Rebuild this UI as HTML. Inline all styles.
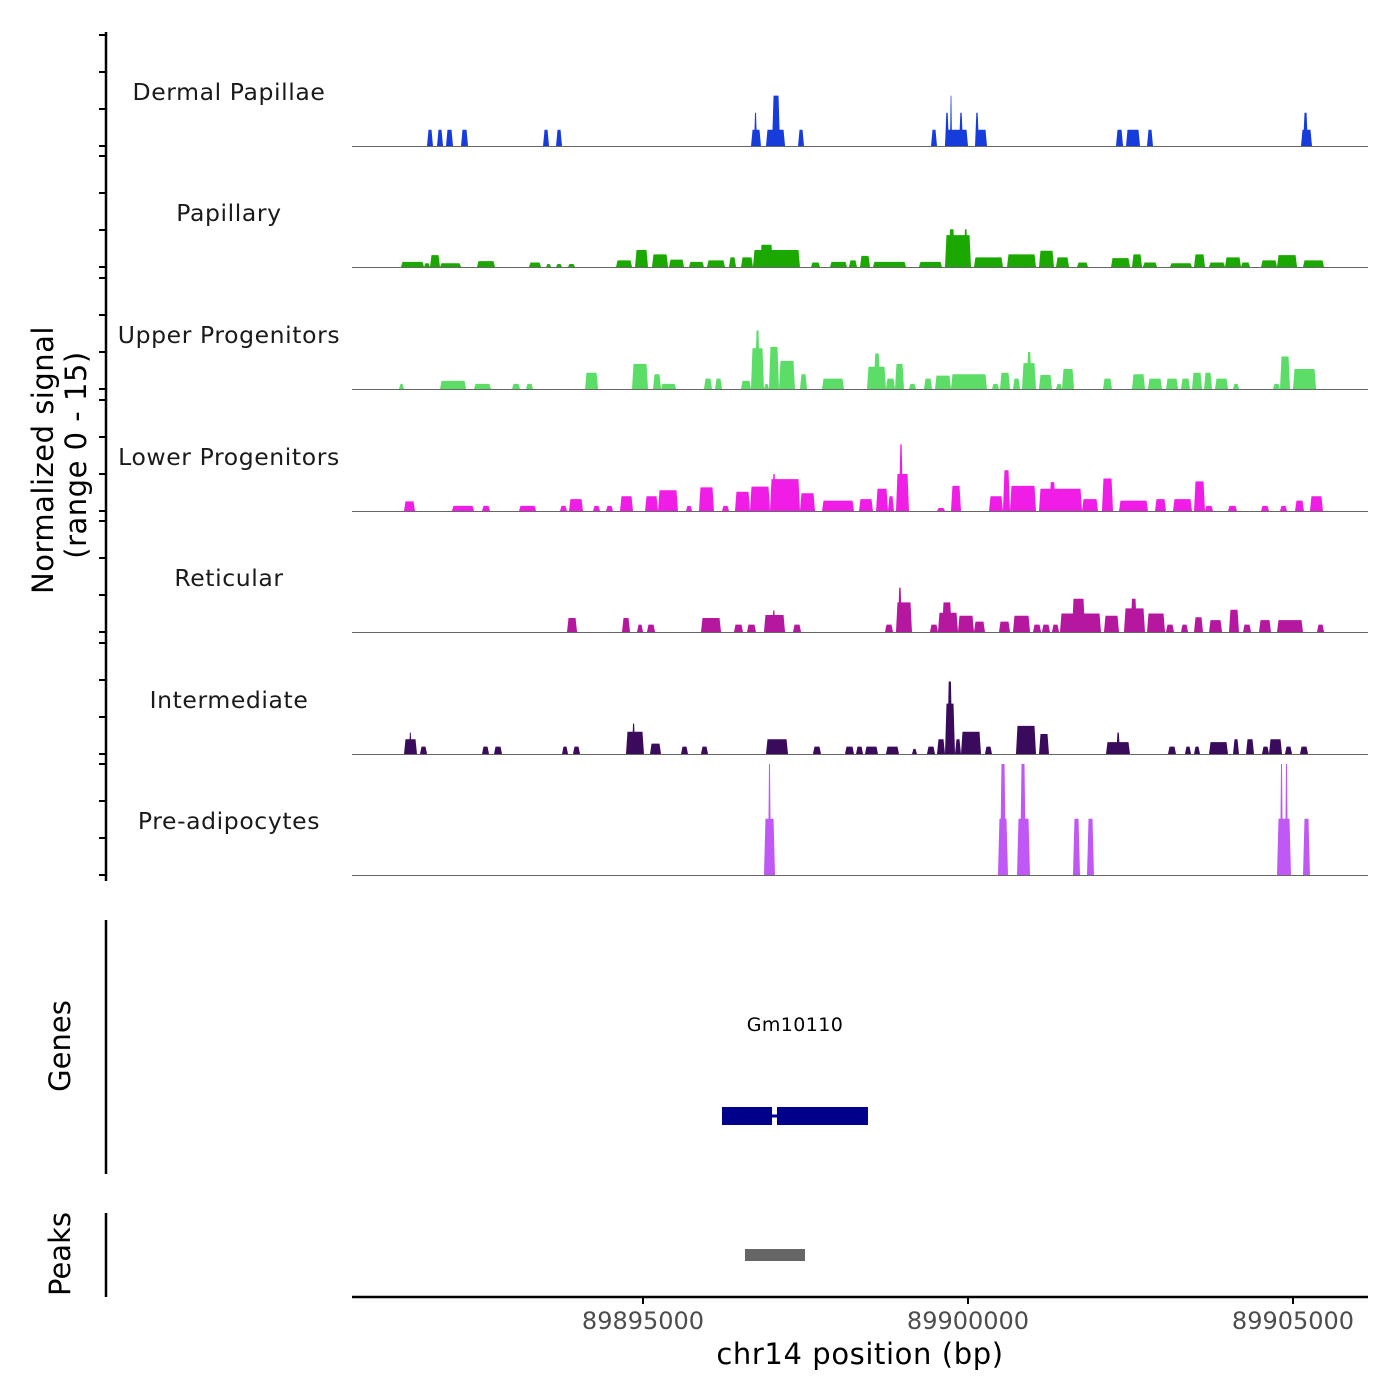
<!DOCTYPE html>
<html><head><meta charset="utf-8"><style>
body{margin:0;background:#fff;}
svg{display:block;font-family:"DejaVu Sans","Liberation Sans",sans-serif;}
</style></head><body>
<svg id="chart" width="1400" height="1400" viewBox="0 0 1400 1400"></svg>
<script>
const trackNames = ["Dermal Papillae","Papillary","Upper Progenitors","Lower Progenitors","Reticular","Intermediate","Pre-adipocytes"];
const trackColors = ["#173cdc","#1ba800","#5cdd68","#ef1de6","#b5179f","#3a0b5c","#bf58f4"];
const dermalSignal = [[89891677,89891769,2.2],[89891831,89891923,2.2],[89891969,89892077,2.2],[89892200,89892308,2.2],[89893462,89893554,2.2],[89893662,89893754,2.2],[89896662,89896815,2.2],[89896708,89896754,4.5],[89896892,89897185,2.2],[89896985,89897108,6.8],[89897385,89897477,2.2],[89899431,89899523,2.2],[89899646,89900000,2.2],[89899646,89899708,4.5],[89899723,89899754,6.8],[89899862,89899923,4.5],[89900138,89900292,2.2],[89900108,89900169,4.5],[89902277,89902385,2.2],[89902431,89902646,2.2],[89902754,89902846,2.2],[89905123,89905292,2.2],[89905154,89905231,4.5]];
const papillarySignal = [[89891277,89891631,0.7],[89891631,89891723,0.5],[89891723,89891877,1.6],[89891877,89892200,0.5],[89892446,89892723,0.8],[89893246,89893431,0.6],[89893508,89893585,0.4],[89893662,89893754,0.4],[89893846,89893954,0.4],[89894585,89894831,0.9],[89894877,89895077,2.3],[89895138,89895385,1.7],[89895400,89895631,1.0],[89895708,89895938,0.7],[89895985,89896261,0.9],[89896323,89896431,1.3],[89896508,89896692,1.3],[89896692,89897415,2.3],[89896800,89897000,3.0],[89897585,89897723,0.6],[89897877,89898138,0.7],[89898169,89898292,0.9],[89898338,89898492,1.5],[89898538,89899046,0.7],[89899246,89899600,0.7],[89899646,89900046,4.3],[89899700,89899800,5.1],[89899930,89900000,5.1],[89900092,89900538,1.3],[89900600,89901046,1.7],[89901092,89901323,2.2],[89901354,89901554,1.3],[89901677,89901846,0.6],[89902200,89902492,1.2],[89902523,89902677,1.7],[89902692,89902908,0.6],[89903108,89903446,0.5],[89903477,89903646,1.7],[89903708,89903954,0.6],[89903954,89904200,1.3],[89904200,89904338,0.6],[89904508,89904754,0.9],[89904754,89905062,1.6],[89905154,89905477,0.9]];
const upperSignal = [[89891246,89891323,0.7],[89891877,89892277,1.1],[89892400,89892661,0.7],[89892985,89893108,0.7],[89893200,89893308,0.7],[89894108,89894308,2.2],[89894831,89895077,3.4],[89895154,89895277,2.0],[89895277,89895508,0.7],[89895938,89896061,1.4],[89896108,89896215,1.4],[89896508,89896661,1.1],[89896661,89896861,5.5],[89896723,89896800,7.9],[89896861,89896938,0.7],[89896938,89897092,5.7],[89897092,89897338,3.8],[89897415,89897523,2.0],[89897754,89898092,1.4],[89898446,89898738,3.0],[89898550,89898650,4.8],[89898738,89898877,1.4],[89898877,89899015,3.4],[89899092,89899200,0.7],[89899323,89899446,1.4],[89899492,89899738,1.8],[89899738,89900292,2.0],[89900369,89900477,0.7],[89900492,89900646,2.2],[89900692,89900800,1.4],[89900831,89901046,3.5],[89900900,89900980,5.0],[89901092,89901292,1.9],[89901354,89901446,0.7],[89901446,89901631,2.7],[89902077,89902215,1.4],[89902523,89902723,2.0],[89902769,89902985,1.4],[89903046,89903231,1.4],[89903277,89903415,1.4],[89903446,89903600,2.2],[89903631,89903754,2.2],[89903800,89904000,1.4],[89904077,89904169,0.7],[89904692,89904800,0.7],[89904800,89904954,4.4],[89905000,89905354,2.7]];
const lowerSignal = [[89891323,89891492,1.3],[89892061,89892400,0.7],[89892523,89892646,0.7],[89893092,89893354,0.7],[89893723,89893831,0.7],[89893861,89894077,1.6],[89894231,89894338,0.7],[89894431,89894538,0.7],[89894646,89894846,2.0],[89895031,89895231,2.0],[89895231,89895538,2.8],[89895661,89895754,0.7],[89895861,89896092,3.2],[89896215,89896323,0.7],[89896415,89896646,2.6],[89896646,89896954,3.3],[89896954,89897415,4.3],[89896985,89897046,5.0],[89897415,89897646,2.4],[89897754,89898246,1.4],[89898323,89898538,1.6],[89898585,89898769,3.0],[89898769,89898861,2.0],[89898892,89899092,5.0],[89898938,89899000,9.0],[89899523,89899646,0.4],[89899738,89899892,3.4],[89900323,89900538,2.0],[89900538,89900646,5.5],[89900646,89901046,3.4],[89901092,89901754,3.0],[89901250,89901350,3.9],[89901754,89902000,1.6],[89902061,89902231,4.4],[89902323,89902769,1.4],[89902877,89903046,1.6],[89903154,89903446,1.6],[89903477,89903646,4.0],[89903646,89903769,0.7],[89904000,89904138,0.7],[89904508,89904631,0.7],[89904800,89904908,0.7],[89905031,89905169,1.4],[89905261,89905461,2.0]];
const reticularSignal = [[89893831,89893985,1.9],[89894677,89894800,1.9],[89894908,89895000,1.0],[89895061,89895185,1.0],[89895892,89896200,1.9],[89896400,89896538,1.0],[89896600,89896738,1.0],[89896861,89897185,2.3],[89896985,89897040,2.9],[89897308,89897431,1.0],[89898723,89898846,1.0],[89898892,89899138,4.0],[89898920,89898985,6.0],[89899415,89899538,1.0],[89899538,89899846,2.6],[89899600,89899750,4.0],[89899846,89900092,2.2],[89900092,89900261,1.4],[89900477,89900646,1.4],[89900692,89900954,2.2],[89901000,89901123,1.0],[89901138,89901261,1.0],[89901292,89901400,1.0],[89901415,89902046,2.5],[89901600,89901800,4.5],[89902092,89902323,2.2],[89902400,89902723,3.2],[89902500,89902600,4.5],[89902754,89903031,2.5],[89903046,89903169,1.0],[89903277,89903385,1.0],[89903477,89903615,2.0],[89903708,89903908,1.6],[89904015,89904169,3.0],[89904231,89904354,1.0],[89904477,89904661,1.6],[89904754,89905154,1.6],[89905369,89905477,1.0]];
const intermediateSignal = [[89891323,89891523,2.0],[89891400,89891440,2.9],[89891569,89891677,1.0],[89892523,89892631,1.0],[89892708,89892831,1.0],[89893754,89893846,1.0],[89893923,89894031,1.0],[89894738,89895015,3.0],[89894830,89894880,4.1],[89895108,89895277,1.4],[89895585,89895692,1.0],[89895892,89896000,1.0],[89896892,89897231,2.0],[89897615,89897738,1.0],[89898108,89898246,1.0],[89898277,89898385,1.0],[89898415,89898615,1.0],[89898738,89898938,1.0],[89899138,89899215,0.7],[89899369,89899492,1.0],[89899523,89899646,2.0],[89899646,89899800,6.8],[89899680,89899760,9.8],[89899800,89899892,2.0],[89899892,89900200,3.0],[89900261,89900369,1.0],[89900738,89901046,3.8],[89901092,89901246,2.7],[89902123,89902492,1.6],[89902280,89902340,2.9],[89903077,89903200,1.0],[89903338,89903431,1.0],[89903477,89903569,1.0],[89903708,89904000,1.6],[89904077,89904169,2.0],[89904277,89904400,2.0],[89904523,89904631,1.0],[89904631,89904831,2.0],[89904877,89904985,1.0],[89905108,89905231,1.0]];
const preadipocyteSignal = [[89896861,89897031,7.6],[89896923,89896969,15],[89900461,89900615,7.6],[89900492,89900585,15],[89900754,89900954,7.6],[89900800,89900892,15],[89901615,89901723,7.6],[89901831,89901938,7.6],[89904754,89904969,7.6],[89904800,89904846,15],[89904877,89904923,15],[89905154,89905261,7.6]];
const trackSignals = [dermalSignal,papillarySignal,upperSignal,lowerSignal,reticularSignal,intermediateSignal,preadipocyteSignal];
const yTickValues = [0,5,10,15];
const xTickValues = [89895000,89900000,89905000];
const xTickLabels = ["89895000","89900000","89905000"];
const geneExons = [[89896215,89896985],[89897061,89898461]];
const geneName = "Gm10110";
const peakRegions = [[89896569,89897492]];

const NS="http://www.w3.org/2000/svg";
const svg=document.getElementById('chart');
const X0=352, X1=1368, BP0=89890523, PXBP=0.065;
const xs = bp => X0 + (bp-BP0)*PXBP;
const baselines=[146,267,389,511,632,754,875];
const UNIT=7.4, VMAX=15;
const ys = (v,base) => base - Math.min(v,VMAX)*UNIT;
function mk(tag,attrs,parent){const e=document.createElementNS(NS,tag);for(const k in attrs)e.setAttribute(k,attrs[k]);(parent||svg).appendChild(e);return e;}

const ax=mk('line',{x1:106,y1:32,x2:106,y2:881,stroke:'#000','stroke-width':2.5});



trackNames.forEach((name,t)=>{
  const base=baselines[t];
  const g=mk('g',{});
  
  
  yTickValues.forEach(v=>{
    const tk=mk('line',{x1:99,x2:106,y1:ys(v,base),y2:ys(v,base),stroke:'#000','stroke-width':2},g);
    
    
  });
  trackSignals[t].forEach(s=>{
    const a=xs(s[0]), b=xs(s[1]), top=ys(s[2],base);
    const w=b-a, tp=Math.min(1.5,w/3);
    const p=mk('polygon',{points:`${a},${base} ${a+tp},${top} ${b-tp},${top} ${b},${base}`,fill:trackColors[t]},g);
    
    
  });
  const bl=mk('line',{x1:X0,x2:X1,y1:base+0.5,y2:base+0.5,stroke:'#666','stroke-width':1},g);
  
  
  const lb=mk('text',{x:229,y:base-46,'text-anchor':'middle','font-size':23.5,'letter-spacing':0.6,fill:'#1a1a1a'},g);
  lb.textContent=name;
  
  
});

const yt=mk('text',{transform:'translate(53,460) rotate(-90)','text-anchor':'middle','font-size':29,'letter-spacing':0.5,fill:'#000'});
yt.textContent='Normalized signal';


const yt2=mk('text',{transform:'translate(86,455) rotate(-90)','text-anchor':'middle','font-size':29,'letter-spacing':0.5,fill:'#000'});
yt2.textContent='(range 0 - 15)';



const ga=mk('line',{x1:106,y1:920,x2:106,y2:1174,stroke:'#000','stroke-width':2.5});


const gt=mk('text',{transform:'translate(70,1046) rotate(-90)','text-anchor':'middle','font-size':29,fill:'#000'});
gt.textContent='Genes';


const gl=mk('line',{x1:xs(geneExons[0][0]),x2:xs(geneExons[geneExons.length-1][1]),y1:1116,y2:1116,stroke:'#00008b','stroke-width':3});


geneExons.forEach(e=>{
  const r=mk('rect',{x:xs(e[0]),y:1107,width:xs(e[1])-xs(e[0]),height:18,fill:'#00008b'});
  
  
});
const gn=mk('text',{x:(xs(geneExons[0][0])+xs(geneExons[geneExons.length-1][1]))/2,y:1031,'text-anchor':'middle','font-size':19,'letter-spacing':0.4,fill:'#000'});
gn.textContent=geneName;



const pa=mk('line',{x1:106,y1:1213,x2:106,y2:1297,stroke:'#000','stroke-width':2.5});


const pt=mk('text',{transform:'translate(70,1254) rotate(-90)','text-anchor':'middle','font-size':29,fill:'#000'});
pt.textContent='Peaks';


peakRegions.forEach(p=>{
  const r=mk('rect',{x:xs(p[0]),y:1249,width:xs(p[1])-xs(p[0]),height:12,fill:'#666'});
  
  
});

const xa=mk('line',{x1:X0,x2:X1,y1:1297,y2:1297,stroke:'#000','stroke-width':2.5});


xTickValues.forEach((v,i)=>{
  const tk=mk('line',{x1:xs(v),x2:xs(v),y1:1297,y2:1304,stroke:'#000','stroke-width':2});
  
  
  const tl=mk('text',{x:xs(v),y:1329,'text-anchor':'middle','font-size':24,fill:'#4d4d4d'});
  tl.textContent=xTickLabels[i];
  
  
});
const xt=mk('text',{x:860,y:1364,'text-anchor':'middle','font-size':29,'letter-spacing':0.6,fill:'#000'});
xt.textContent='chr14 position (bp)';


</script>
</body></html>
